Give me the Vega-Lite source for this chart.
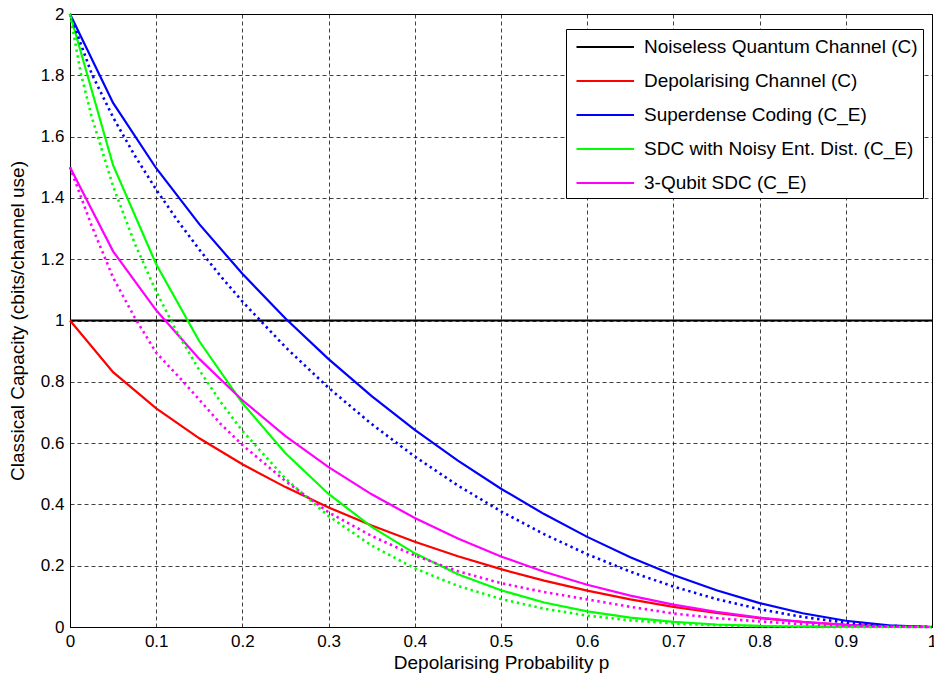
{
  "$schema": "https://vega.github.io/schema/vega-lite/v6.json",
  "width": 862,
  "height": 613,
  "autosize": {"type": "none"},
  "padding": {"left": 70, "top": 14, "right": 2, "bottom": 53},
  "background": "white",
  "config": {
    "font": "Liberation Sans",
    "view": {"stroke": "#000", "strokeWidth": 1},
    "axis": {
      "domainColor": "#000",
      "domainWidth": 1,
      "gridColor": "#000",
      "gridDash": [4, 3],
      "gridWidth": 1,
      "gridOpacity": 0.75,
      "labelColor": "#000",
      "titleColor": "#000",
      "labelFont": "Liberation Sans",
      "titleFont": "Liberation Sans",
      "labelFontSize": 17,
      "titleFontSize": 19,
      "titleFontWeight": "normal",
      "ticks": false
    }
  },
  "data": {
    "values": [
      {"p": 0, "v": 1, "s": "Noiseless Quantum Channel (C)", "d": "solid"},
      {"p": 1, "v": 1, "s": "Noiseless Quantum Channel (C)", "d": "solid"},

      {"p": 0, "v": 1, "s": "Depolarising Channel (C)", "d": "solid"},
      {"p": 0.05, "v": 0.8313, "s": "Depolarising Channel (C)", "d": "solid"},
      {"p": 0.1, "v": 0.7136, "s": "Depolarising Channel (C)", "d": "solid"},
      {"p": 0.15, "v": 0.6157, "s": "Depolarising Channel (C)", "d": "solid"},
      {"p": 0.2, "v": 0.531, "s": "Depolarising Channel (C)", "d": "solid"},
      {"p": 0.25, "v": 0.4564, "s": "Depolarising Channel (C)", "d": "solid"},
      {"p": 0.3, "v": 0.3902, "s": "Depolarising Channel (C)", "d": "solid"},
      {"p": 0.35, "v": 0.331, "s": "Depolarising Channel (C)", "d": "solid"},
      {"p": 0.4, "v": 0.2781, "s": "Depolarising Channel (C)", "d": "solid"},
      {"p": 0.45, "v": 0.2308, "s": "Depolarising Channel (C)", "d": "solid"},
      {"p": 0.5, "v": 0.1887, "s": "Depolarising Channel (C)", "d": "solid"},
      {"p": 0.55, "v": 0.1515, "s": "Depolarising Channel (C)", "d": "solid"},
      {"p": 0.6, "v": 0.1187, "s": "Depolarising Channel (C)", "d": "solid"},
      {"p": 0.65, "v": 0.0903, "s": "Depolarising Channel (C)", "d": "solid"},
      {"p": 0.7, "v": 0.0659, "s": "Depolarising Channel (C)", "d": "solid"},
      {"p": 0.75, "v": 0.0456, "s": "Depolarising Channel (C)", "d": "solid"},
      {"p": 0.8, "v": 0.0291, "s": "Depolarising Channel (C)", "d": "solid"},
      {"p": 0.85, "v": 0.0163, "s": "Depolarising Channel (C)", "d": "solid"},
      {"p": 0.9, "v": 0.0072, "s": "Depolarising Channel (C)", "d": "solid"},
      {"p": 0.95, "v": 0.0018, "s": "Depolarising Channel (C)", "d": "solid"},
      {"p": 1, "v": 0, "s": "Depolarising Channel (C)", "d": "solid"},

      {"p": 0, "v": 2, "s": "Superdense Coding (C_E)", "d": "solid"},
      {"p": 0.05, "v": 1.7099, "s": "Superdense Coding (C_E)", "d": "solid"},
      {"p": 0.1, "v": 1.4968, "s": "Superdense Coding (C_E)", "d": "solid"},
      {"p": 0.15, "v": 1.3143, "s": "Superdense Coding (C_E)", "d": "solid"},
      {"p": 0.2, "v": 1.1524, "s": "Superdense Coding (C_E)", "d": "solid"},
      {"p": 0.25, "v": 1.0066, "s": "Superdense Coding (C_E)", "d": "solid"},
      {"p": 0.3, "v": 0.8742, "s": "Superdense Coding (C_E)", "d": "solid"},
      {"p": 0.35, "v": 0.7535, "s": "Superdense Coding (C_E)", "d": "solid"},
      {"p": 0.4, "v": 0.6432, "s": "Superdense Coding (C_E)", "d": "solid"},
      {"p": 0.45, "v": 0.5427, "s": "Superdense Coding (C_E)", "d": "solid"},
      {"p": 0.5, "v": 0.4512, "s": "Superdense Coding (C_E)", "d": "solid"},
      {"p": 0.55, "v": 0.3684, "s": "Superdense Coding (C_E)", "d": "solid"},
      {"p": 0.6, "v": 0.294, "s": "Superdense Coding (C_E)", "d": "solid"},
      {"p": 0.65, "v": 0.2278, "s": "Superdense Coding (C_E)", "d": "solid"},
      {"p": 0.7, "v": 0.1697, "s": "Superdense Coding (C_E)", "d": "solid"},
      {"p": 0.75, "v": 0.1198, "s": "Superdense Coding (C_E)", "d": "solid"},
      {"p": 0.8, "v": 0.0781, "s": "Superdense Coding (C_E)", "d": "solid"},
      {"p": 0.85, "v": 0.0449, "s": "Superdense Coding (C_E)", "d": "solid"},
      {"p": 0.9, "v": 0.0204, "s": "Superdense Coding (C_E)", "d": "solid"},
      {"p": 0.95, "v": 0.0052, "s": "Superdense Coding (C_E)", "d": "solid"},
      {"p": 1, "v": 0, "s": "Superdense Coding (C_E)", "d": "solid"},

      {"p": 0, "v": 2, "s": "Superdense Coding (C_E)", "d": "dotted"},
      {"p": 0.025, "v": 1.8061, "s": "Superdense Coding (C_E)", "d": "dotted"},
      {"p": 0.05, "v": 1.6627, "s": "Superdense Coding (C_E)", "d": "dotted"},
      {"p": 0.075, "v": 1.5386, "s": "Superdense Coding (C_E)", "d": "dotted"},
      {"p": 0.1, "v": 1.4272, "s": "Superdense Coding (C_E)", "d": "dotted"},
      {"p": 0.125, "v": 1.3254, "s": "Superdense Coding (C_E)", "d": "dotted"},
      {"p": 0.15, "v": 1.2314, "s": "Superdense Coding (C_E)", "d": "dotted"},
      {"p": 0.175, "v": 1.1439, "s": "Superdense Coding (C_E)", "d": "dotted"},
      {"p": 0.2, "v": 1.062, "s": "Superdense Coding (C_E)", "d": "dotted"},
      {"p": 0.25, "v": 0.9129, "s": "Superdense Coding (C_E)", "d": "dotted"},
      {"p": 0.3, "v": 0.7803, "s": "Superdense Coding (C_E)", "d": "dotted"},
      {"p": 0.35, "v": 0.662, "s": "Superdense Coding (C_E)", "d": "dotted"},
      {"p": 0.4, "v": 0.5561, "s": "Superdense Coding (C_E)", "d": "dotted"},
      {"p": 0.45, "v": 0.4616, "s": "Superdense Coding (C_E)", "d": "dotted"},
      {"p": 0.5, "v": 0.3774, "s": "Superdense Coding (C_E)", "d": "dotted"},
      {"p": 0.55, "v": 0.3029, "s": "Superdense Coding (C_E)", "d": "dotted"},
      {"p": 0.6, "v": 0.2374, "s": "Superdense Coding (C_E)", "d": "dotted"},
      {"p": 0.65, "v": 0.1805, "s": "Superdense Coding (C_E)", "d": "dotted"},
      {"p": 0.7, "v": 0.1319, "s": "Superdense Coding (C_E)", "d": "dotted"},
      {"p": 0.75, "v": 0.0911, "s": "Superdense Coding (C_E)", "d": "dotted"},
      {"p": 0.8, "v": 0.0581, "s": "Superdense Coding (C_E)", "d": "dotted"},
      {"p": 0.85, "v": 0.0326, "s": "Superdense Coding (C_E)", "d": "dotted"},
      {"p": 0.9, "v": 0.0145, "s": "Superdense Coding (C_E)", "d": "dotted"},
      {"p": 0.95, "v": 0.0036, "s": "Superdense Coding (C_E)", "d": "dotted"},
      {"p": 1, "v": 0, "s": "Superdense Coding (C_E)", "d": "dotted"},

      {"p": 0, "v": 2, "s": "SDC with Noisy Ent. Dist. (C_E)", "d": "solid"},
      {"p": 0.05, "v": 1.5066, "s": "SDC with Noisy Ent. Dist. (C_E)", "d": "solid"},
      {"p": 0.1, "v": 1.1834, "s": "SDC with Noisy Ent. Dist. (C_E)", "d": "solid"},
      {"p": 0.15, "v": 0.9322, "s": "SDC with Noisy Ent. Dist. (C_E)", "d": "solid"},
      {"p": 0.2, "v": 0.7306, "s": "SDC with Noisy Ent. Dist. (C_E)", "d": "solid"},
      {"p": 0.25, "v": 0.5669, "s": "SDC with Noisy Ent. Dist. (C_E)", "d": "solid"},
      {"p": 0.3, "v": 0.434, "s": "SDC with Noisy Ent. Dist. (C_E)", "d": "solid"},
      {"p": 0.35, "v": 0.3265, "s": "SDC with Noisy Ent. Dist. (C_E)", "d": "solid"},
      {"p": 0.4, "v": 0.2404, "s": "SDC with Noisy Ent. Dist. (C_E)", "d": "solid"},
      {"p": 0.45, "v": 0.1724, "s": "SDC with Noisy Ent. Dist. (C_E)", "d": "solid"},
      {"p": 0.5, "v": 0.1198, "s": "SDC with Noisy Ent. Dist. (C_E)", "d": "solid"},
      {"p": 0.55, "v": 0.08, "s": "SDC with Noisy Ent. Dist. (C_E)", "d": "solid"},
      {"p": 0.6, "v": 0.0508, "s": "SDC with Noisy Ent. Dist. (C_E)", "d": "solid"},
      {"p": 0.65, "v": 0.0303, "s": "SDC with Noisy Ent. Dist. (C_E)", "d": "solid"},
      {"p": 0.7, "v": 0.0166, "s": "SDC with Noisy Ent. Dist. (C_E)", "d": "solid"},
      {"p": 0.75, "v": 0.0081, "s": "SDC with Noisy Ent. Dist. (C_E)", "d": "solid"},
      {"p": 0.8, "v": 0.0034, "s": "SDC with Noisy Ent. Dist. (C_E)", "d": "solid"},
      {"p": 0.85, "v": 0.0011, "s": "SDC with Noisy Ent. Dist. (C_E)", "d": "solid"},
      {"p": 0.9, "v": 0.0002, "s": "SDC with Noisy Ent. Dist. (C_E)", "d": "solid"},
      {"p": 0.95, "v": 0, "s": "SDC with Noisy Ent. Dist. (C_E)", "d": "solid"},
      {"p": 1, "v": 0, "s": "SDC with Noisy Ent. Dist. (C_E)", "d": "solid"},

      {"p": 0, "v": 2, "s": "SDC with Noisy Ent. Dist. (C_E)", "d": "dotted"},
      {"p": 0.0125, "v": 1.8071, "s": "SDC with Noisy Ent. Dist. (C_E)", "d": "dotted"},
      {"p": 0.025, "v": 1.666, "s": "SDC with Noisy Ent. Dist. (C_E)", "d": "dotted"},
      {"p": 0.05, "v": 1.4379, "s": "SDC with Noisy Ent. Dist. (C_E)", "d": "dotted"},
      {"p": 0.075, "v": 1.252, "s": "SDC with Noisy Ent. Dist. (C_E)", "d": "dotted"},
      {"p": 0.1, "v": 1.0941, "s": "SDC with Noisy Ent. Dist. (C_E)", "d": "dotted"},
      {"p": 0.125, "v": 0.9576, "s": "SDC with Noisy Ent. Dist. (C_E)", "d": "dotted"},
      {"p": 0.15, "v": 0.8381, "s": "SDC with Noisy Ent. Dist. (C_E)", "d": "dotted"},
      {"p": 0.175, "v": 0.7329, "s": "SDC with Noisy Ent. Dist. (C_E)", "d": "dotted"},
      {"p": 0.2, "v": 0.6399, "s": "SDC with Noisy Ent. Dist. (C_E)", "d": "dotted"},
      {"p": 0.25, "v": 0.4842, "s": "SDC with Noisy Ent. Dist. (C_E)", "d": "dotted"},
      {"p": 0.3, "v": 0.3618, "s": "SDC with Noisy Ent. Dist. (C_E)", "d": "dotted"},
      {"p": 0.35, "v": 0.2657, "s": "SDC with Noisy Ent. Dist. (C_E)", "d": "dotted"},
      {"p": 0.4, "v": 0.1912, "s": "SDC with Noisy Ent. Dist. (C_E)", "d": "dotted"},
      {"p": 0.45, "v": 0.1341, "s": "SDC with Noisy Ent. Dist. (C_E)", "d": "dotted"},
      {"p": 0.5, "v": 0.0911, "s": "SDC with Noisy Ent. Dist. (C_E)", "d": "dotted"},
      {"p": 0.55, "v": 0.0596, "s": "SDC with Noisy Ent. Dist. (C_E)", "d": "dotted"},
      {"p": 0.6, "v": 0.0371, "s": "SDC with Noisy Ent. Dist. (C_E)", "d": "dotted"},
      {"p": 0.65, "v": 0.0217, "s": "SDC with Noisy Ent. Dist. (C_E)", "d": "dotted"},
      {"p": 0.7, "v": 0.0117, "s": "SDC with Noisy Ent. Dist. (C_E)", "d": "dotted"},
      {"p": 0.75, "v": 0.0056, "s": "SDC with Noisy Ent. Dist. (C_E)", "d": "dotted"},
      {"p": 0.8, "v": 0.0023, "s": "SDC with Noisy Ent. Dist. (C_E)", "d": "dotted"},
      {"p": 0.85, "v": 0.0007, "s": "SDC with Noisy Ent. Dist. (C_E)", "d": "dotted"},
      {"p": 0.9, "v": 0.0001, "s": "SDC with Noisy Ent. Dist. (C_E)", "d": "dotted"},
      {"p": 0.95, "v": 0, "s": "SDC with Noisy Ent. Dist. (C_E)", "d": "dotted"},
      {"p": 1, "v": 0, "s": "SDC with Noisy Ent. Dist. (C_E)", "d": "dotted"},

      {"p": 0, "v": 1.5, "s": "3-Qubit SDC (C_E)", "d": "solid"},
      {"p": 0.05, "v": 1.2257, "s": "3-Qubit SDC (C_E)", "d": "solid"},
      {"p": 0.1, "v": 1.0332, "s": "3-Qubit SDC (C_E)", "d": "solid"},
      {"p": 0.15, "v": 0.8748, "s": "3-Qubit SDC (C_E)", "d": "solid"},
      {"p": 0.2, "v": 0.7398, "s": "3-Qubit SDC (C_E)", "d": "solid"},
      {"p": 0.25, "v": 0.6231, "s": "3-Qubit SDC (C_E)", "d": "solid"},
      {"p": 0.3, "v": 0.5215, "s": "3-Qubit SDC (C_E)", "d": "solid"},
      {"p": 0.35, "v": 0.4329, "s": "3-Qubit SDC (C_E)", "d": "solid"},
      {"p": 0.4, "v": 0.3556, "s": "3-Qubit SDC (C_E)", "d": "solid"},
      {"p": 0.45, "v": 0.2884, "s": "3-Qubit SDC (C_E)", "d": "solid"},
      {"p": 0.5, "v": 0.2302, "s": "3-Qubit SDC (C_E)", "d": "solid"},
      {"p": 0.55, "v": 0.1803, "s": "3-Qubit SDC (C_E)", "d": "solid"},
      {"p": 0.6, "v": 0.1379, "s": "3-Qubit SDC (C_E)", "d": "solid"},
      {"p": 0.65, "v": 0.1023, "s": "3-Qubit SDC (C_E)", "d": "solid"},
      {"p": 0.7, "v": 0.0729, "s": "3-Qubit SDC (C_E)", "d": "solid"},
      {"p": 0.75, "v": 0.0492, "s": "3-Qubit SDC (C_E)", "d": "solid"},
      {"p": 0.8, "v": 0.0307, "s": "3-Qubit SDC (C_E)", "d": "solid"},
      {"p": 0.85, "v": 0.0168, "s": "3-Qubit SDC (C_E)", "d": "solid"},
      {"p": 0.9, "v": 0.0073, "s": "3-Qubit SDC (C_E)", "d": "solid"},
      {"p": 0.95, "v": 0.0018, "s": "3-Qubit SDC (C_E)", "d": "solid"},
      {"p": 1, "v": 0, "s": "3-Qubit SDC (C_E)", "d": "solid"},

      {"p": 0, "v": 1.5, "s": "3-Qubit SDC (C_E)", "d": "dotted"},
      {"p": 0.025, "v": 1.31, "s": "3-Qubit SDC (C_E)", "d": "dotted"},
      {"p": 0.05, "v": 1.14, "s": "3-Qubit SDC (C_E)", "d": "dotted"},
      {"p": 0.075, "v": 1.01, "s": "3-Qubit SDC (C_E)", "d": "dotted"},
      {"p": 0.1, "v": 0.895, "s": "3-Qubit SDC (C_E)", "d": "dotted"},
      {"p": 0.125, "v": 0.82, "s": "3-Qubit SDC (C_E)", "d": "dotted"},
      {"p": 0.15, "v": 0.742, "s": "3-Qubit SDC (C_E)", "d": "dotted"},
      {"p": 0.175, "v": 0.662, "s": "3-Qubit SDC (C_E)", "d": "dotted"},
      {"p": 0.2, "v": 0.594, "s": "3-Qubit SDC (C_E)", "d": "dotted"},
      {"p": 0.25, "v": 0.476, "s": "3-Qubit SDC (C_E)", "d": "dotted"},
      {"p": 0.3, "v": 0.374, "s": "3-Qubit SDC (C_E)", "d": "dotted"},
      {"p": 0.35, "v": 0.297, "s": "3-Qubit SDC (C_E)", "d": "dotted"},
      {"p": 0.4, "v": 0.233, "s": "3-Qubit SDC (C_E)", "d": "dotted"},
      {"p": 0.45, "v": 0.182, "s": "3-Qubit SDC (C_E)", "d": "dotted"},
      {"p": 0.5, "v": 0.143, "s": "3-Qubit SDC (C_E)", "d": "dotted"},
      {"p": 0.55, "v": 0.114, "s": "3-Qubit SDC (C_E)", "d": "dotted"},
      {"p": 0.6, "v": 0.09, "s": "3-Qubit SDC (C_E)", "d": "dotted"},
      {"p": 0.65, "v": 0.066, "s": "3-Qubit SDC (C_E)", "d": "dotted"},
      {"p": 0.7, "v": 0.044, "s": "3-Qubit SDC (C_E)", "d": "dotted"},
      {"p": 0.75, "v": 0.029, "s": "3-Qubit SDC (C_E)", "d": "dotted"},
      {"p": 0.8, "v": 0.018, "s": "3-Qubit SDC (C_E)", "d": "dotted"},
      {"p": 0.85, "v": 0.009, "s": "3-Qubit SDC (C_E)", "d": "dotted"},
      {"p": 0.9, "v": 0.004, "s": "3-Qubit SDC (C_E)", "d": "dotted"},
      {"p": 0.95, "v": 0.001, "s": "3-Qubit SDC (C_E)", "d": "dotted"},
      {"p": 1, "v": 0, "s": "3-Qubit SDC (C_E)", "d": "dotted"}
    ]
  },
  "encoding": {
    "x": {
      "field": "p",
      "type": "quantitative",
      "scale": {"domain": [0, 1], "nice": false, "zero": false},
      "axis": {
        "values": [0, 0.1, 0.2, 0.3, 0.4, 0.5, 0.6, 0.7, 0.8, 0.9, 1],
        "format": "~g",
        "title": "Depolarising Probability p",
        "labelPadding": 6,
        "titlePadding": 4,
        "labelFlush": false
      }
    },
    "y": {
      "field": "v",
      "type": "quantitative",
      "scale": {"domain": [0, 2], "nice": false},
      "axis": {
        "values": [0, 0.2, 0.4, 0.6, 0.8, 1, 1.2, 1.4, 1.6, 1.8, 2],
        "format": "~g",
        "title": "Classical Capacity (cbits/channel use)",
        "labelPadding": 6,
        "titlePadding": 13,
        "labelFlush": false
      }
    },
    "color": {
      "field": "s",
      "type": "nominal",
      "scale": {
        "domain": ["Noiseless Quantum Channel (C)", "Depolarising Channel (C)", "Superdense Coding (C_E)", "SDC with Noisy Ent. Dist. (C_E)", "3-Qubit SDC (C_E)"],
        "range": ["#000000", "#ff0000", "#0000ff", "#00ff00", "#ff00ff"]
      }
    }
  },
  "layer": [
    {
      "transform": [{"filter": "datum.d === 'solid'"}],
      "mark": {"type": "line", "strokeWidth": 2.2},
      "encoding": {
        "color": {
          "field": "s",
          "type": "nominal",
          "legend": {
            "orient": "none",
            "legendX": 496,
            "legendY": 15,
            "title": null,
            "symbolType": "M-1,0H4",
            "symbolSize": 529,
            "symbolStrokeWidth": 2.2,
            "symbolOffset": 4,
            "labelFont": "Liberation Sans",
            "labelFontSize": 19,
            "labelColor": "#000",
            "labelOffset": 43,
            "labelLimit": 0,
            "rowPadding": 11,
            "padding": 5,
            "strokeColor": "#000",
            "fillColor": "#ffffff"
          }
        }
      }
    },
    {
      "transform": [{"filter": "datum.d === 'dotted'"}],
      "mark": {"type": "line", "strokeWidth": 2.6, "strokeDash": [2.4, 3.6]},
      "encoding": {
        "color": {"field": "s", "type": "nominal", "legend": null}
      }
    }
  ]
}
